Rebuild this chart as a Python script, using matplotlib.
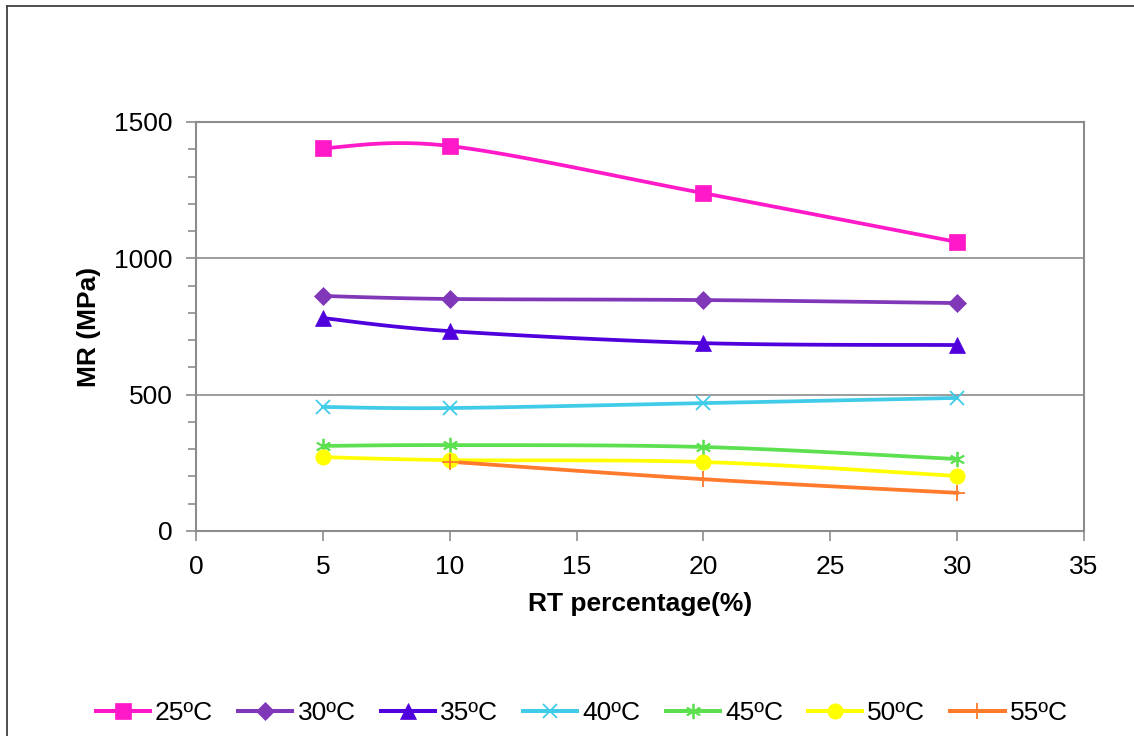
import numpy as np
import matplotlib
matplotlib.use('Agg')
import matplotlib.pyplot as plt
from matplotlib.lines import Line2D

plt.rcParams['font.family'] = ['Liberation Sans', 'DejaVu Sans']

# data
rt_pct = [5, 10, 20, 30]
mr_25 = [1404, 1412, 1239, 1060]
mr_30 = [862, 851, 847, 836]
mr_35 = [781, 733, 689, 682]
mr_40 = [455, 451, 469, 488]
mr_45 = [312, 315, 308, 264]
mr_50 = [271, 260, 253, 202]
rt_pct_55 = [10, 20, 30]
mr_55 = [254, 190, 140]

labels = ['25ºC', '30ºC', '35ºC', '40ºC', '45ºC', '50ºC', '55ºC']
colors = ['#ff19c8', '#8038b8', '#5000dc', '#40cce8', '#5ce050', '#ffff00', '#ff7a2a']
markers = ['s', 'D', '^', 'x', (6, 2, 0), 'o', '+']
msizes = [11, 9, 11, 10, 11, 11, 11]


def smooth(x, y, n=30):
    # excel-like smoothed line (catmull-rom bezier)
    x = np.asarray(x, float)
    y = np.asarray(y, float)
    px = np.concatenate([[x[0]], x, [x[-1]]])
    py = np.concatenate([[y[0]], y, [y[-1]]])
    xs, ys = [], []
    t = np.linspace(0, 1, n)
    for i in range(1, len(px) - 2):
        p0 = np.array([px[i], py[i]])
        p3 = np.array([px[i + 1], py[i + 1]])
        p1 = p0 + (np.array([px[i + 1], py[i + 1]]) - np.array([px[i - 1], py[i - 1]])) / 6
        p2 = p3 - (np.array([px[i + 2], py[i + 2]]) - np.array([px[i], py[i]])) / 6
        b = ((1 - t) ** 3)[:, None] * p0 + (3 * (1 - t) ** 2 * t)[:, None] * p1 \
            + (3 * (1 - t) * t ** 2)[:, None] * p2 + (t ** 3)[:, None] * p3
        xs.extend(b[:, 0])
        ys.extend(b[:, 1])
    return xs, ys


fig = plt.figure(figsize=(11.34, 7.36), dpi=100)
ax = fig.add_axes([196 / 1134, 1 - 531 / 736, 888 / 1134, 409 / 736])

series = [(rt_pct, mr_25), (rt_pct, mr_30), (rt_pct, mr_35), (rt_pct, mr_40),
          (rt_pct, mr_45), (rt_pct, mr_50), (rt_pct_55, mr_55)]

handles = []
for (xv, yv), lab, c, m, ms in zip(series, labels, colors, markers, msizes):
    sx, sy = smooth(xv, yv)
    ax.plot(sx, sy, color=c, lw=2.7, zorder=3)
    mew = 1.3 if m in ('x', '+', (6, 2, 0)) else 0.5
    ax.plot(xv, yv, ls='none', marker=m, ms=ms, color=c, mec=c, mew=mew, zorder=4)
    handles.append(Line2D([], [], color=c, lw=2.9, marker=m, ms=ms, mec=c, mew=mew, label=lab))

ax.set_xlim(0, 35)
ax.set_ylim(0, 1500)
ax.set_xticks(range(0, 36, 5))
ax.set_yticks([0, 500, 1000, 1500])
ax.set_yticks(range(0, 1501, 100), minor=True)
ax.yaxis.grid(True, color='#8c8c8c', lw=1.2)
ax.set_axisbelow(True)
for s in ax.spines.values():
    s.set_color('#8c8c8c')
    s.set_linewidth(1.5)
ax.tick_params(axis='both', which='major', direction='out', length=7, width=1.2,
               color='#8c8c8c', labelsize=19)
ax.tick_params(axis='x', which='major', pad=10)
ax.tick_params(axis='y', which='major', pad=10)
ax.tick_params(axis='y', which='minor', direction='out', length=6, width=1.2, color='#8c8c8c')
ax.tick_params(axis='x', which='minor', bottom=False)

ax.set_xlabel('RT percentage(%)', fontsize=19, fontweight='bold', labelpad=10)
ax.set_ylabel('MR (MPa)', fontsize=19, fontweight='bold', labelpad=9)

fig.legend(handles=handles, loc='center', bbox_to_anchor=(0.513, 1 - 713 / 736), ncol=7,
           frameon=False, fontsize=19, handlelength=2.05, handletextpad=0.2,
           columnspacing=0.95)

# outer chart frame
fig.add_artist(Line2D([7 / 1134, 7 / 1134], [0, 1 - 5.5 / 736], color='#404040', lw=1.3,
                      transform=fig.transFigure))
fig.add_artist(Line2D([7 / 1134, 1], [1 - 5.5 / 736, 1 - 5.5 / 736], color='#404040', lw=1.3,
                      transform=fig.transFigure))

fig.savefig('out.png', dpi=100)
